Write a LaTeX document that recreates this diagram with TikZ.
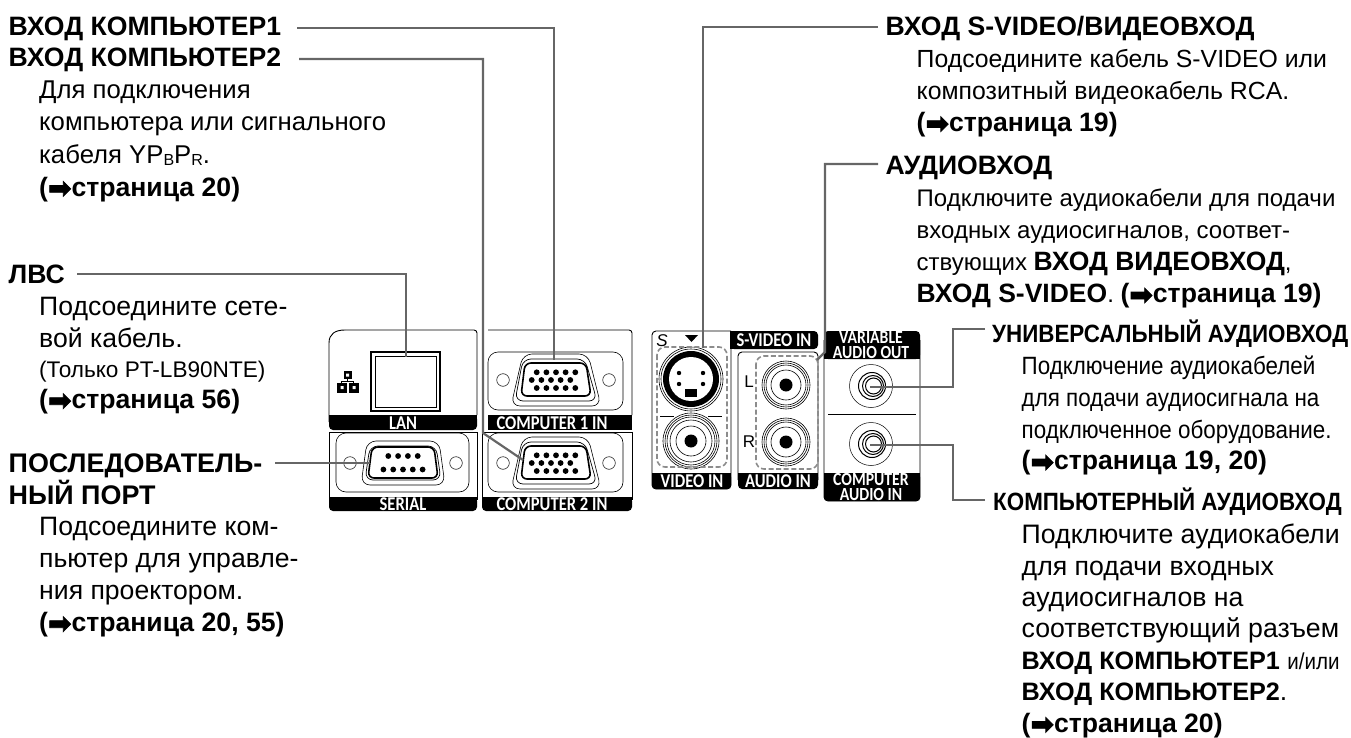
\documentclass[tikz,border=0pt]{standalone}
\usepackage{fontspec}
\setmainfont{Liberation Sans}
\newfontfamily\arrowfont[FakeBold=2.5]{DejaVu Sans}
\newfontfamily\narrowfont[FakeStretch=0.895]{Liberation Sans}
\newfontfamily\bandfont[FakeStretch=0.85]{Carlito}
\newcommand{\pg}[1]{{\fontspec{Liberation Sans}\fontsize{26.6}{32}\selectfont\bfseries (\raisebox{-1.5pt}{\arrowfont\fontsize{28}{28}\selectfont\char"27A1}#1)}}
\newcommand{\bb}[1]{{\fontsize{26.5}{32}\selectfont\bfseries #1}}
\newcommand{\sbs}[1]{\raisebox{-2pt}{\fontsize{16}{16}\selectfont #1}}
\tikzset{
  x=1pt,y=-1pt,
  head/.style={anchor=base west,inner sep=0pt,font=\fontsize{26.6}{32}\selectfont\bfseries},
  txt/.style={anchor=north west,inner sep=0pt,align=left,font=\fontsize{24.8}{32}\selectfont},
  nar/.style={anchor=north west,inner sep=0pt,align=left,font=\narrowfont\fontsize{25}{31.7}\selectfont},
  narhead/.style={anchor=base west,inner sep=0pt,font=\narrowfont\fontsize{25}{32}\selectfont\bfseries},
  conn/.style={draw=black!60,line width=2.2pt},
  panel/.style={draw=black,line width=0.9pt},
  thin line/.style={draw=black,line width=0.6pt},
  bandtext/.style={text=white,inner sep=0pt,align=center,font=\bandfont\bfseries\fontsize{19.5}{14}\selectfont},
  bandtwo/.style={text=white,inner sep=0pt,align=center,font=\bandfont\bfseries\fontsize{18.5}{14.5}\selectfont},
  dash box/.style={draw=black!45,line width=1.6pt,dash pattern=on 5pt off 2.6pt,rounded corners=8pt},
  lab/.style={inner sep=0pt,font=\fontsize{17}{17}\selectfont},
}
\newcommand{\vga}[2]{%
 \begin{scope}[shift={(#1,#2)}]
  \draw[line width=0.7pt,rounded corners=8pt] (-33,-21)--(29,-21)--(41,21)--(-41,21)--cycle;
  \draw[line width=0.6pt,rounded corners=9pt] (-33,-26)--(32,-26)--(45,26)--(-45,26)--cycle;
  \draw[line width=1.6pt,rounded corners=6pt] (-31,-17)--(30,-17)--(35,16)--(-35,16)--cycle;
  \foreach \x in {-19.3,-9.6,0,9.6,19.3}{\fill (\x,-7.7) circle (2.9);\fill (\x,8) circle (2.9);\fill (\x-5,0) circle (2.9);}
  \draw[line width=0.5pt] (-53,0) circle (6.3) (53,0) circle (6.3);
 \end{scope}}
\newcommand{\rca}[3]{%
 \begin{scope}[shift={(#1,#2)},scale=#3]
  \draw[line width=0.6pt] (0,0) circle (24) (0,0) circle (22) (0,0) circle (20) (0,0) circle (15) ;
  \fill (0,0) circle (6.5);
 \end{scope}}
\newcommand{\minij}[2]{%
 \begin{scope}[shift={(#1,#2)}]
  \draw[line width=0.5pt] (0,0) circle (21.5);
  \draw[line width=1pt] (1,0) circle (13.5);
  \draw[line width=1pt] (2,0) circle (10.5);
  \draw[line width=1pt] (2.5,0) circle (8);
 \end{scope}}
\begin{document}
\begin{tikzpicture}
\useasboundingbox (0,0) rectangle (1351,738);
% ---------- left panels
\draw[panel,rounded corners=3pt] (477,415)--(477,330)--(345,330);
\draw[panel] (345,330)..controls (335,330) and (329,334) ..(329,343)--(329,422);
\fill[rounded corners=4pt] (329,415) rectangle (477,430);
\fill (329,415) rectangle (477,424);
\node[bandtext] (lanlab) at (403,423) {LAN};
\draw[line width=1.1pt] (371,352) rectangle (440,411);
\draw[line width=0.5pt] (375,356) rectangle (436,407);
\begin{scope}[shift={(347.5,382)}]
 \fill (-4,-11) rectangle (4,-3); \fill (-11,1) rectangle (-1,11); \fill (1,1) rectangle (11,11);
 \fill[white] (-1.5,-8.5) rectangle (1.5,-5.5) (-7,4) rectangle (-4,7) (5,4) rectangle (8,7);
 \draw[line width=0.8pt] (0,-3)--(0,-1) (-6,1)--(-6,-1)--(6,-1)--(6,1);
\end{scope}
\draw[panel,rounded corners=3pt] (488,330)--(632,330)--(632,415);
\draw[thin line,rounded corners=10pt] (488,352) rectangle (623,410);
\fill (488,415) rectangle (632,430);
\node[bandtext] (c1lab) at (552,423) {COMPUTER 1 IN};
\vga{556}{380}
% serial
\draw[panel] (329,432)--(477,432);
\draw[panel] (329,432)--(329,500);
\draw[panel] (477,432)--(477,500);
\draw[thin line,rounded corners=10pt] (336,433) rectangle (469,492);
\fill[rounded corners=4pt] (329,497) rectangle (477,511);
\fill (329,497) rectangle (477,504);
\node[bandtext] (serlab) at (403,504) {SERIAL};
\begin{scope}[shift={(403,463)}]
  \draw[line width=0.7pt,rounded corners=8pt] (-33,-17)--(33,-17)--(38,17)--(-38,17)--cycle;
  \draw[line width=0.6pt,rounded corners=9pt] (-36,-22)--(36,-22)--(42,22)--(-42,22)--cycle;
  \draw[line width=1.6pt,rounded corners=6pt] (-31,-16)--(31,-16)--(35,15)--(-35,15)--cycle;
  \foreach \x in {-14.7,-4.9,4.9,14.7}{\fill (\x,-7) circle (2.9);}
  \foreach \x in {-19.6,-9.8,0,9.8,19.6}{\fill (\x,6.5) circle (2.9);}
  \draw[line width=0.5pt] (-53,0) circle (6.3) (53,0) circle (6.3);
\end{scope}
% computer 2
\draw[panel] (482,432)--(632,432);
\draw[panel] (482,432)--(482,500);
\draw[panel] (632,432)--(632,500);
\draw[thin line,rounded corners=10pt] (488,433) rectangle (623,492);
\fill[rounded corners=4pt] (482,497) rectangle (632,511);
\fill (482,497) rectangle (632,504);
\node[bandtext] (c2lab) at (552,504) {COMPUTER 2 IN};
\vga{556}{463}
% ---------- right panels
\draw[panel,rounded corners=4pt] (731,331)--(652,331)--(652,489)--(731,489)--(731,340);
\fill[rounded corners=4pt] (730,331) rectangle (818,349);
\fill (730,331) rectangle (745,349);
\node[bandtext] (svlab) at (774,340) {S-VIDEO IN};
\fill[rounded corners=4pt] (652,473) rectangle (731,489);
\fill (652,473) rectangle (731,480);
\node[bandtext] (vlab) at (692,481) {VIDEO IN};
\draw[panel,rounded corners=4pt] (738,480)--(738,352)--(818,352)--(818,480);
\fill[rounded corners=4pt] (738,473) rectangle (818,489);
\fill (738,473) rectangle (818,480);
\node[bandtext] (alab) at (778,481) {AUDIO IN};
\draw[panel,rounded corners=4pt] (824,340)--(824,501)--(920,501)--(920,340);
\fill[rounded corners=4pt] (824,331) rectangle (920,359);
\fill (824,345) rectangle (920,359);
\node[bandtwo] (vaolab) at (871,345) {VARIABLE\\AUDIO OUT};
\fill[rounded corners=4pt] (824,473) rectangle (920,501);
\fill (824,473) rectangle (920,487);
\node[bandtwo] (calab) at (871,487) {COMPUTER\\AUDIO IN};
\draw[line width=0.9pt] (828,414)--(916,414);
% jacks
\begin{scope}[shift={(691,379)}]
 \draw[line width=0.6pt] (0,0) circle (32) (0,0) circle (30);
 \fill (0,0) circle (28);
 \fill[white] (0,0) circle (22);
 \fill (-12,-6) circle (2.2) (12,-6) circle (2.2) (-12,5) circle (2.2) (12,5) circle (2.2);
 \fill (-6,10) rectangle (6,18);
\end{scope}
\draw[line width=0.6pt] (660,416)--(674,416) (708,416)--(722,416);
\begin{scope}[shift={(691,441)}]
 \draw[line width=0.6pt] (0,0) circle (28) (0,0) circle (26) (0,0) circle (24) (0,0) circle (21) (0,0) circle (15);
 \fill (0,0) circle (6.5);
\end{scope}
\rca{786}{385}{1}
\rca{786}{442}{1}
\minij{871}{386}
\minij{871}{444}
\draw[dash box] (657,347) rectangle (727,467);
\draw[dash box] (756,356) rectangle (818,469);
\fill (685,335)--(698,335)--(691.5,342)--cycle;
\node[lab,font=\itshape\fontsize{17}{17}\selectfont] (slab) at (662,341) {S};
\node[lab] (llab) at (749,382) {L};
\node[lab] (rlab) at (749,442) {R};
% ---------- text
\node[head] (t1) at (8.5,35.5) {ВХОД КОМПЬЮТЕР1};
\node[head] (t2) at (8.5,66.5) {ВХОД КОМПЬЮТЕР2};
\node[txt,font=\fontsize{25.7}{32.6}\selectfont] (t2d) at (39,80.5) {Для подключения\\компьютера или сигнального\\кабеля YP\sbs{B}P\sbs{R}.\\\pg{страница 20}};
\node[head] (t3) at (8.5,283.5) {ЛВС};
\node[txt,font=\fontsize{26.6}{32}\selectfont] (t3d) at (39,297) {Подсоедините сете-\\вой кабель.\\[-2pt]{\fontsize{22.6}{22.6}\selectfont (Только PT-LB90NTE)}\\[-1pt]\pg{страница 56}};
\node[txt,font=\fontsize{26.9}{32}\selectfont\bfseries] (t4) at (8.5,453.5) {ПОСЛЕДОВАТЕЛЬ-\\НЫЙ ПОРТ};
\node[txt,font=\fontsize{26.6}{32}\selectfont] (t4d) at (39,517) {Подсоедините ком-\\пьютер для управле-\\ния проектором.\\\pg{страница 20, 55}};
\node[head] (t5) at (885.5,35.5) {ВХОД S-VIDEO/ВИДЕОВХОД};
\node[txt] (t5d) at (916.5,49) {Подсоедините кабель S-VIDEO или\\композитный видеокабель RCA.\\\pg{страница 19}};
\node[head] (t6) at (885.5,174.5) {АУДИОВХОД};
\node[txt,font=\fontsize{24}{32}\selectfont] (t6d) at (916.5,189) {Подключите аудиокабели для подачи\\входных аудиосигналов, соответ-\\ствующих \bb{ВХОД ВИДЕОВХОД},\\\bb{ВХОД S-VIDEO}. \pg{страница 19}};
\node[narhead] (t7) at (992,342) {УНИВЕРСАЛЬНЫЙ АУДИОВХОД};
\node[nar] (t7d) at (1021.5,356) {Подключение аудиокабелей\\для подачи аудиосигнала на\\подключенное оборудование.\\\pg{страница 19, 20}};
\node[narhead] (t8) at (993,510) {КОМПЬЮТЕРНЫЙ АУДИОВХОД};
\node[txt,font=\fontsize{26.7}{31.4}\selectfont] (t8d) at (1021.5,524) {Подключите аудиокабели\\для подачи входных\\аудиосигналов на\\соответствующий разъем\\{\fontsize{25.2}{31.4}\selectfont\bfseries ВХОД КОМПЬЮТЕР1} {\narrowfont\fontsize{23}{23}\selectfont и/или}\\{\fontsize{25.2}{31.4}\selectfont\bfseries ВХОД КОМПЬЮТЕР2}.\\\pg{страница 20}};
% ---------- connectors
\coordinate (s1) at (297,28);   \coordinate (p1) at (554,360);
\coordinate (s2) at (299,59);   \coordinate (k2) at (483,433); \coordinate (p2) at (523,460);
\coordinate (s3) at (77,274);   \coordinate (p3) at (406,357);
\coordinate (s4) at (275,463);  \coordinate (p4) at (370,463);
\coordinate (s5) at (878,27);   \coordinate (p5) at (703,348);
\coordinate (s6) at (878,164);  \coordinate (k6) at (825,352); \coordinate (p6) at (817,360);
\coordinate (s7) at (985,329);  \coordinate (k7) at (953,387); \coordinate (p7) at (870,387);
\coordinate (s8) at (985,500);  \coordinate (k8) at (953,445); \coordinate (p8) at (870,445);
\draw[conn] (s1) -| (p1);
\draw[conn] (s2) -| (k2) -- (p2);
\draw[conn] (s3) -| (p3);
\draw[conn] (s4) -- (p4);
\draw[conn] (s5) -| (p5);
\draw[conn] (s6) -| (k6) -- (p6);
\draw[conn] (s7) -| (k7) -- (p7);
\draw[conn] (s8) -| (k8) -- (p8);
\end{tikzpicture}
\end{document}
